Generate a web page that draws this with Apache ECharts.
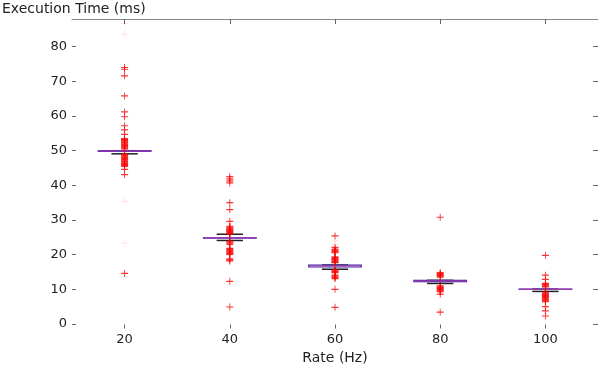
<!DOCTYPE html>
<html>
<head>
<meta charset="utf-8">
<script src="https://cdn.jsdelivr.net/npm/echarts@6/dist/echarts.min.js"></script>
<style>
  html, body { margin: 0; padding: 0; background: #fff; }
  #box-echarts { width: 600px; height: 368px; }
</style>
</head>
<body>
<div id="box-echarts"></div>
<script>
// categories and tick labels
var categories = ['20', '40', '60', '80', '100'];
var yTicks = [0, 10, 20, 30, 40, 50, 60, 70, 80];

// box statistics per rate
var whiskerLow = [49.1, 24.1, 15.8, 11.7, 9.4];
var q1 = [49.8, 24.75, 16.45, 12.2, 9.95];
var median = [49.9, 24.85, 16.7, 12.4, 10.0];
var q3 = [50.0, 24.95, 17.0, 12.6, 10.05];
var whiskerHigh = [50.0, 25.9, 17.0, 12.6, 10.05];

// outliers (strong red)
var out20 = [74.0, 73.5, 71.6, 65.8, 61.2, 59.8, 57.2, 56.0, 54.7,
    53.5, 53.25, 53.0, 52.75, 52.5, 52.25, 52.0, 51.75, 51.5, 51.25, 51.0, 50.75, 50.5,
    49.0, 48.75, 48.5, 48.25, 48.0, 47.75, 47.5, 47.25, 47.0, 46.75, 46.5, 46.25, 46.0, 45.75, 45.5,
    44.6, 43.1, 14.6];
var out40 = [42.5, 41.9, 41.3, 40.7, 35.0, 33.0, 29.6,
    28.2, 27.95, 27.7, 27.45, 27.2, 26.95, 26.7, 26.45, 26.2, 25.95,
    23.9, 23.6, 23.3, 23.0,
    21.8, 21.55, 21.3, 21.05, 20.8, 20.55, 20.3, 20.1,
    18.8, 18.5, 18.2, 12.3, 4.9];
var out60 = [25.4, 22.1, 21.6, 21.3, 21.05, 20.8, 20.55,
    19.4, 19.15, 18.9, 18.65, 18.4, 18.15, 17.9, 17.7,
    15.6, 15.35, 15.1, 14.85, 14.1, 13.85, 13.6, 13.35, 13.1, 10.0, 4.8];
var out80 = [30.8, 14.8, 14.55, 14.3, 14.05, 13.8, 13.55,
    11.0, 10.75, 10.5, 10.25, 10.0, 9.75, 9.5, 9.3, 8.6, 3.4];
var out100 = [19.8, 14.1, 12.9, 11.7, 11.45, 11.2, 10.95, 10.7,
    9.2, 8.95, 8.7, 8.45, 8.2, 7.95, 7.7, 7.45, 7.2, 6.95, 6.7, 6.45,
    5.0, 3.8, 2.3];

// outliers (faint)
var faint20 = [86.7, 83.6, 35.4, 23.4];
var faint40 = [];
var faint60 = [24.0, 23.0];
var faint80 = [];
var faint100 = [];

var plus = 'path://M-0.9,-7L0.9,-7L0.9,-1.2L7,-1.2L7,1.2L0.9,1.2L0.9,7L-0.9,7L-0.9,1.2L-7,1.2L-7,-1.2L-0.9,-1.2Z';
var font = 'DejaVu Sans';

function toPoints(lists) {
    var pts = [];
    lists.forEach(function (list, i) {
        list.forEach(function (v) { pts.push([i, v]); });
    });
    return pts;
}

var boxData = categories.map(function (c, i) {
    return [i, whiskerLow[i], q1[i], median[i], q3[i], whiskerHigh[i]];
});

function renderBox(params, api) {
    var i = api.value(0);
    var band = api.size([1, 0])[0];
    var boxW = band * 0.5;
    var capW = band * 0.25;
    var cx = api.coord([i, 0])[0];
    var yLo = api.coord([i, api.value(1)])[1];
    var yQ1 = api.coord([i, api.value(2)])[1];
    var yMed = api.coord([i, api.value(3)])[1];
    var yQ3 = api.coord([i, api.value(4)])[1];
    var yHi = api.coord([i, api.value(5)])[1];
    return {
        type: 'group',
        children: [{
            type: 'line',
            shape: { x1: cx, y1: yLo, x2: cx, y2: yQ1 },
            style: { stroke: '#222', lineWidth: 1 }
        }, {
            type: 'line',
            shape: { x1: cx, y1: yQ3, x2: cx, y2: yHi },
            style: { stroke: '#222', lineWidth: 1 }
        }, {
            type: 'line',
            shape: { x1: cx - capW / 2, y1: yLo, x2: cx + capW / 2, y2: yLo },
            style: { stroke: '#222', lineWidth: 1.5 }
        }, {
            type: 'line',
            shape: { x1: cx - capW / 2, y1: yHi, x2: cx + capW / 2, y2: yHi },
            style: { stroke: '#222', lineWidth: 1.5 }
        }, {
            type: 'rect',
            shape: { x: cx - boxW / 2, y: yQ3, width: boxW, height: yQ1 - yQ3 },
            style: { stroke: '#3020b0', fill: 'none', lineWidth: 1.2 }
        }, {
            type: 'line',
            shape: { x1: cx - boxW / 2, y1: yMed, x2: cx + boxW / 2, y2: yMed },
            style: { stroke: 'rgba(190,70,170,0.75)', lineWidth: 1.5 }
        }]
    };
}

var chart = echarts.init(document.getElementById('box-echarts'));
var option = {
    animation: false,
    textStyle: { fontFamily: font },
    title: {
        text: 'Execution Time (ms)',
        left: 2,
        top: 2,
        padding: 0,
        textStyle: { fontFamily: font, fontSize: 14, fontWeight: 'normal', color: '#222' }
    },
    grid: {
        left: 72,
        right: 2,
        top: 19,
        bottom: 39.5,
        outerBoundsMode: 'none'
    },
    xAxis: [{
        type: 'category',
        data: categories,
        position: 'bottom',
        boundaryGap: true,
        axisLine: { show: false, onZero: false },
        axisTick: {
            show: true,
            inside: true,
            alignWithLabel: true,
            length: 4,
            lineStyle: { color: '#666' }
        },
        axisLabel: { margin: 5, fontSize: 13, color: '#222', fontFamily: font },
        splitLine: { show: false },
        name: 'Rate (Hz)',
        nameLocation: 'middle',
        nameGap: 20,
        nameTextStyle: { fontSize: 14, color: '#222', fontFamily: font }
    }, {
        type: 'category',
        data: categories,
        position: 'top',
        boundaryGap: true,
        axisLine: { show: true, onZero: false, lineStyle: { color: '#888', width: 1 } },
        axisTick: {
            show: true,
            inside: true,
            alignWithLabel: true,
            length: 5,
            lineStyle: { color: '#666' }
        },
        axisLabel: { show: false },
        splitLine: { show: false }
    }],
    yAxis: [{
        type: 'value',
        position: 'left',
        min: -1.3,
        max: 88,
        axisLine: { show: false },
        axisTick: {
            show: true,
            inside: true,
            length: 4,
            customValues: yTicks,
            lineStyle: { color: '#666' }
        },
        axisLabel: {
            margin: 5,
            fontSize: 13,
            color: '#222',
            fontFamily: font,
            customValues: yTicks
        },
        splitLine: { show: false }
    }, {
        type: 'value',
        position: 'right',
        min: -1.3,
        max: 88,
        axisLine: { show: false },
        axisTick: {
            show: true,
            inside: true,
            length: 5,
            customValues: yTicks,
            lineStyle: { color: '#666' }
        },
        axisLabel: { show: false },
        splitLine: { show: false }
    }],
    series: [{
        type: 'custom',
        name: 'box',
        renderItem: renderBox,
        encode: { x: 0, y: [1, 2, 3, 4, 5] },
        data: boxData,
        z: 2
    }, {
        type: 'scatter',
        name: 'faint',
        symbol: plus,
        symbolSize: 7,
        itemStyle: { color: 'rgba(255,0,0,0.13)' },
        data: toPoints([faint20, faint40, faint60, faint80, faint100]),
        z: 3
    }, {
        type: 'scatter',
        name: 'outliers',
        symbol: plus,
        symbolSize: 7,
        itemStyle: { color: '#f50000' },
        data: toPoints([out20, out40, out60, out80, out100]),
        z: 4
    }]
};
chart.setOption(option);
</script>
</body>
</html>
